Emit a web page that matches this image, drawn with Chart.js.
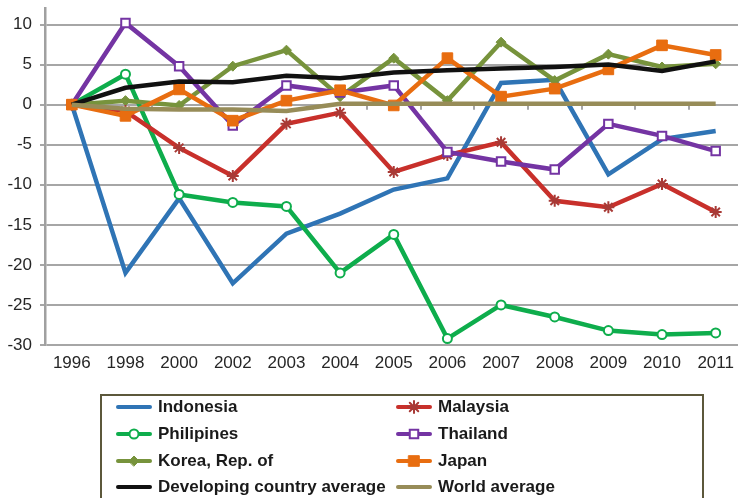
<!DOCTYPE html>
<html lang="en">
<head>
  <meta charset="UTF-8">
  <title>Change in share, 1996-2011</title>
  <script src="https://cdn.jsdelivr.net/npm/chart.js"></script>
  <style>
    * { margin: 0; padding: 0; box-sizing: border-box; }
    body { background: #fff; width: 738px; height: 498px; overflow: hidden; }
    #chart { display: block; }
  </style>
</head>
<body>
  <!-- the plot runs a little past the right edge, so the canvas is wider than the page -->
  <canvas id="chart" width="751" height="498"></canvas>

  <script>
    // categories along the bottom
    const years = ['1996', '1998', '2000', '2002', '2003', '2004', '2005', '2006', '2007', '2008', '2009', '2010', '2011'];

    // series values
    const indonesia  = [0, -21.0, -11.7, -22.3, -16.1, -13.6, -10.6, -9.2, 2.7, 3.1, -8.7, -4.3, -3.3];
    const philipines = [0, 3.8, -11.2, -12.2, -12.7, -21.0, -16.2, -29.2, -25.0, -26.5, -28.2, -28.7, -28.5];
    const korea      = [0, 0.5, -0.1, 4.8, 6.8, 1.0, 5.8, 0.5, 7.8, 3.0, 6.3, 4.7, 5.1];
    const developing = [0, 2.1, 2.9, 2.8, 3.6, 3.3, 4.0, 4.3, 4.5, 4.7, 5.0, 4.2, 5.4];
    const malaysia   = [0, -0.8, -5.4, -8.9, -2.4, -1.0, -8.4, -6.3, -4.7, -12.0, -12.8, -9.9, -13.4];
    const thailand   = [0, 10.2, 4.8, -2.6, 2.4, 1.5, 2.4, -5.9, -7.1, -8.1, -2.4, -3.9, -5.8];
    const japan      = [0, -1.4, 1.9, -2.0, 0.5, 1.8, -0.1, 5.8, 1.0, 2.0, 4.4, 7.4, 6.2];
    const world      = [0, -0.5, -0.6, -0.6, -0.8, 0.1, 0.1, 0.1, 0.1, 0.1, 0.1, 0.1, 0.1];

    // y axis tick values
    const yTicks = [-30, -25, -20, -15, -10, -5, 0, 5, 10];

    const FONT = "'Liberation Sans', Arial, sans-serif";

    function series(label, data, color, extra) {
      return Object.assign({
        label: label,
        data: data,
        borderColor: color,
        backgroundColor: color,
        borderWidth: 4.5,
        pointRadius: 0,
        pointHoverRadius: 0,
        tension: 0,
        fill: false
      }, extra || {});
    }

    const datasets = [
      series('Indonesia', indonesia, '#2f74b5', { order: 8 }),
      series('Philipines', philipines, '#0ead4c', {
        order: 7, pointStyle: 'circle', pointRadius: 4.5,
        pointBackgroundColor: '#fff', pointBorderColor: '#0ead4c', pointBorderWidth: 2
      }),
      series('Korea, Rep. of', korea, '#77933c', {
        order: 6, pointStyle: 'rectRot', pointRadius: 5,
        pointBackgroundColor: '#77933c', pointBorderColor: '#77933c', pointBorderWidth: 1
      }),
      series('Developing country average', developing, '#111111', { order: 2 }),
      series('Malaysia', malaysia, '#c8302b', {
        order: 5, pointStyle: 'star', pointRadius: 6,
        pointBackgroundColor: '#a83a36', pointBorderColor: '#a83a36', pointBorderWidth: 2
      }),
      series('Thailand', thailand, '#7434a3', {
        order: 4, pointStyle: 'rect', pointRadius: 6,
        pointBackgroundColor: '#fff', pointBorderColor: '#7434a3', pointBorderWidth: 2
      }),
      series('Japan', japan, '#e86d10', {
        order: 3, pointStyle: 'rect', pointRadius: 7.5,
        pointBackgroundColor: '#e86d10', pointBorderColor: '#e86d10', pointBorderWidth: 1
      }),
      series('World average', world, '#978c58', { order: 1 })
    ];

    // legend rows, two columns, read left to right
    const legendOrder = [
      ['Indonesia', 'Malaysia'],
      ['Philipines', 'Thailand'],
      ['Korea, Rep. of', 'Japan'],
      ['Developing country average', 'World average']
    ];

    // small tick marks on the zero line between categories
    const zeroTicks = {
      id: 'zeroTicks',
      beforeDatasetsDraw(chart) {
        const x = chart.scales.x, y = chart.scales.y;
        const ctx = chart.ctx;
        const y0 = y.getPixelForValue(0);
        const step = x.getPixelForTick(1) - x.getPixelForTick(0);
        ctx.save();
        ctx.strokeStyle = '#a6a6a6';
        ctx.lineWidth = 2;
        for (let i = 1; i < years.length; i++) {
          const px = Math.round(x.getPixelForTick(i) - step / 2);
          ctx.beginPath();
          ctx.moveTo(px, y0);
          ctx.lineTo(px, y0 + 5);
          ctx.stroke();
        }
        ctx.restore();
      }
    };

    // boxed two-column legend under the plot
    const boxLegend = {
      id: 'boxLegend',
      afterDraw(chart) {
        const ctx = chart.ctx;
        const byLabel = {};
        chart.data.datasets.forEach(ds => { byLabel[ds.label] = ds; });

        ctx.save();
        ctx.strokeStyle = '#5c583b';
        ctx.lineWidth = 2;
        ctx.strokeRect(101, 395, 602, 120);

        const cols = [{ x0: 118, tx: 158 }, { x0: 398, tx: 438 }];
        const rows = [407, 434, 461, 487];
        ctx.font = 'bold 17px ' + FONT;
        ctx.fillStyle = '#1a1a1a';
        ctx.textBaseline = 'middle';

        legendOrder.forEach((row, r) => {
          row.forEach((label, c) => {
            const ds = byLabel[label];
            const y = rows[r];
            const x0 = cols[c].x0;
            ctx.strokeStyle = ds.borderColor;
            ctx.lineWidth = 4;
            ctx.lineCap = 'round';
            ctx.beginPath();
            ctx.moveTo(x0, y);
            ctx.lineTo(x0 + 32, y);
            ctx.stroke();
            if (ds.pointRadius > 0) {
              ctx.fillStyle = ds.pointBackgroundColor;
              ctx.strokeStyle = ds.pointBorderColor;
              ctx.lineWidth = ds.pointBorderWidth;
              Chart.helpers.drawPoint(ctx, {
                pointStyle: ds.pointStyle,
                radius: ds.pointRadius,
                rotation: 0,
                borderWidth: ds.pointBorderWidth
              }, x0 + 16, y);
            }
            ctx.fillStyle = '#1a1a1a';
            ctx.fillText(label, cols[c].tx, y);
          });
        });
        ctx.restore();
      }
    };

    new Chart(document.getElementById('chart'), {
      type: 'line',
      data: { labels: years, datasets: datasets },
      options: {
        responsive: false,
        animation: false,
        events: [],
        layout: { padding: { top: 8.5, right: 0, bottom: 113, left: 0 } },
        plugins: { legend: { display: false }, tooltip: { enabled: false } },
        scales: {
          x: {
            offset: true,
            grid: { display: false, drawTicks: false },
            border: { display: false },
            ticks: {
              color: '#262626',
              font: { family: FONT, size: 17 },
              padding: 8,
              maxRotation: 0,
              autoSkip: false
            },
            afterFit(scale) {
              scale.height = 40;
              scale.paddingLeft = 0;
              scale.paddingRight = 0;
            }
          },
          y: {
            min: -30,
            max: 12,
            afterBuildTicks(scale) {
              scale.ticks = yTicks.map(v => ({ value: v }));
            },
            grid: { color: '#a6a6a6', lineWidth: 2, tickLength: 5 },
            border: { color: '#a0a0a0', width: 2.5 },
            ticks: {
              color: '#262626',
              font: { family: FONT, size: 17 },
              padding: 8
            },
            afterFit(scale) {
              scale.width = 45;
              scale.paddingTop = 0;
              scale.paddingBottom = 0;
            }
          }
        }
      },
      plugins: [zeroTicks, boxLegend]
    });
  </script>
</body>
</html>
